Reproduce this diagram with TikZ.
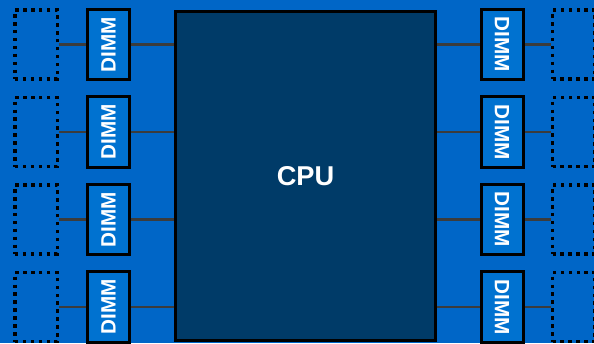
\documentclass[tikz,border=0pt]{standalone}
\usepackage{fontspec}
\setmainfont{Liberation Sans}
\usepackage{tikz}
\usepackage{xcolor}
\definecolor{boardblue}{RGB}{0,102,199}
\definecolor{dimmblue}{RGB}{0,114,208}
\definecolor{cpunavy}{RGB}{0,59,104}
\definecolor{wiregray}{RGB}{60,60,60}
\tikzset{
  dimm/.style={draw=black,line width=1.7pt,fill=dimmblue,inner sep=0pt,
    minimum width=0.84cm,minimum height=1.41cm,text=white,font=\bfseries\fontsize{11.8}{12}\selectfont},
  slot/.style={draw=black,line width=2pt,dash pattern=on 2pt off 2.5pt,
    inner sep=0pt,minimum width=0.85cm,minimum height=1.38cm},
  wire/.style={draw=wiregray,line width=1.3pt}
}

\begin{document}
\begin{tikzpicture}[x=0.02cm,y=-0.02cm]
\fill[boardblue] (0,0) rectangle (594,343);
\useasboundingbox (0,0) rectangle (594,343);
\node[draw=black,line width=1.7pt,fill=cpunavy,inner sep=0pt,minimum width=5.2cm,minimum height=6.58cm,
  text=white,font=\bfseries\fontsize{15.5}{17}\selectfont] (cpu) at (305.5,176) {CPU};
\foreach \i/\y in {1/44.5,2/132,3/219.5,4/307}{
  \node[slot] (ls\i) at (36.2,\y) {};
  \node[slot] (rs\i) at (573.8,\y) {};
  \node[dimm] (l\i) at (108.5,\y) {\rotatebox{90}{DIMM}};
  \node[dimm] (r\i) at (502,\y) {\rotatebox{-90}{DIMM}};
  \draw[wire] (ls\i.east) -- (l\i.west);
  \draw[wire] (l\i.east) -- (cpu.west |- l\i.east);
  \draw[wire] (r\i.west) -- (cpu.east |- r\i.west);
  \draw[wire] (rs\i.west) -- (r\i.east);
}
\end{tikzpicture}
\end{document}
